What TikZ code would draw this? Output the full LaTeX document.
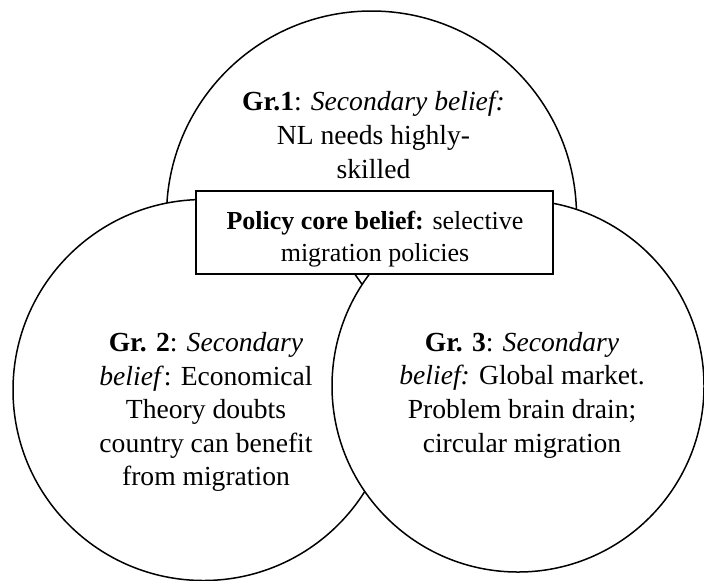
\documentclass[tikz,border=0pt]{standalone}
\usepackage{fontspec}
\setmainfont{Liberation Serif}
\begin{document}
\begin{tikzpicture}[x=0.5pt,y=-0.5pt,
  venn/.style={circle, draw=black, line width=0.75pt, fill=white, inner sep=0pt, outer sep=0pt},
  circtext/.style={align=center, inner sep=0pt, font=\fontsize{13.8pt}{16.8pt}\selectfont},
  corebox/.style={draw=black, line width=0.75pt, fill=white, minimum width=178.5pt, minimum height=41.5pt, inner sep=0pt},
  boxtext/.style={align=center, inner sep=0pt, font=\fontsize{13pt}{15.8pt}\selectfont}]
\useasboundingbox (0,0) rectangle (704,580);
\node[venn, minimum size=205pt] (c1) at (371.5,216) {};
\node[venn, minimum size=190.5pt] (c2) at (203.5,390) {};
\node[venn, minimum size=186pt] (c3) at (518,386) {};
\node[circtext] (t1) at (373.5,135) {\textbf{Gr.1}: \textit{Secondary belief:}\\NL needs highly-\\skilled};
\node[circtext] (t2) at (206,412) {\textbf{Gr. 2}: \textit{Secondary}\\\textit{belief}: Economical\\Theory doubts\\country can benefit\\from migration};
\node[circtext] (t3) at (522,395) {\textbf{Gr. 3}: \textit{Secondary}\\\textit{belief:} Global market.\\Problem brain drain;\\circular migration};
\node[corebox] (core) at (374.5,232.5) {};
\node[boxtext] (coretext) at (375,239) {\textbf{Policy core belief:} selective\\migration policies};
\end{tikzpicture}
\end{document}
